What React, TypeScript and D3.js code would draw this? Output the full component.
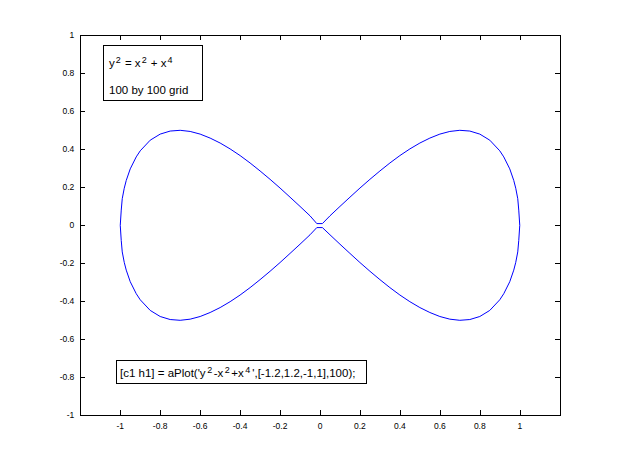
import React from "react";
import * as d3 from "d3";

const xTicks = [-1, -0.8, -0.6, -0.4, -0.2, 0, 0.2, 0.4, 0.6, 0.8, 1];
const xTickLabels = ["-1", "-0.8", "-0.6", "-0.4", "-0.2", "0", "0.2", "0.4", "0.6", "0.8", "1"];
const yTicks = [-1, -0.8, -0.6, -0.4, -0.2, 0, 0.2, 0.4, 0.6, 0.8, 1];
const yTickLabels = ["-1", "-0.8", "-0.6", "-0.4", "-0.2", "0", "0.2", "0.4", "0.6", "0.8", "1"];

// contour: x positions along the curve
const curveX = [
  -1.0, -0.995, -0.99, -0.98, -0.97, -0.95, -0.92, -0.9, -0.85, -0.8, -0.75, -0.7, -0.65, -0.6,
  -0.55, -0.5, -0.45, -0.4, -0.35, -0.3, -0.25, -0.2, -0.15, -0.1, -0.05, -0.016,
  0.012, 0.05, 0.1, 0.15, 0.2, 0.25, 0.3, 0.35, 0.4, 0.45, 0.5, 0.55, 0.6, 0.65, 0.7, 0.75,
  0.8, 0.85, 0.9, 0.92, 0.95, 0.97, 0.98, 0.99, 0.995, 1.0,
];
// upper branch y values
const upperY = [
  0.0, 0.08, 0.14, 0.195, 0.236, 0.297, 0.36, 0.392, 0.448, 0.48, 0.496, 0.5, 0.494, 0.48,
  0.459, 0.433, 0.402, 0.367, 0.328, 0.286, 0.242, 0.196, 0.148, 0.0995, 0.05, 0.009,
  0.009, 0.05, 0.0995, 0.148, 0.196, 0.242, 0.286, 0.328, 0.367, 0.402, 0.433, 0.459, 0.48, 0.494, 0.5, 0.496,
  0.48, 0.448, 0.392, 0.36, 0.297, 0.236, 0.195, 0.14, 0.08, 0.0,
];
// lower branch y values
const lowerY = [
  0.0, -0.08, -0.14, -0.195, -0.236, -0.297, -0.36, -0.392, -0.448, -0.48, -0.496, -0.5, -0.494, -0.48,
  -0.459, -0.433, -0.402, -0.367, -0.328, -0.286, -0.242, -0.196, -0.148, -0.0995, -0.05, -0.012,
  -0.012, -0.05, -0.0995, -0.148, -0.196, -0.242, -0.286, -0.328, -0.367, -0.402, -0.433, -0.459, -0.48, -0.494, -0.5, -0.496,
  -0.48, -0.448, -0.392, -0.36, -0.297, -0.236, -0.195, -0.14, -0.08, 0.0,
];

const W = 618;
const H = 467;
const L = 80.3;
const R = 559.7;
const T = 35.3;
const B = 415.3;
const FONT = "'Liberation Sans', Arial, Helvetica, sans-serif";
const SUP = 4.5;

export default function App() {
  const x = d3.scaleLinear().domain([-1.2, 1.2]).range([L, R]);
  const y = d3.scaleLinear().domain([-1, 1]).range([B, T]);

  const pts: [number, number][] = [];
  curveX.forEach((cx, i) => pts.push([cx, upperY[i]]));
  for (let i = curveX.length - 1; i >= 0; i--) pts.push([curveX[i], lowerY[i]]);
  const line = d3
    .line<[number, number]>()
    .x((d) => x(d[0]))
    .y((d) => y(d[1]))
    .curve(d3.curveLinearClosed);

  const tl = 5;
  return (
    <svg
      width={W}
      height={H}
      style={{ position: "absolute", left: 0, top: 0, display: "block", background: "#fff" }}
      fontFamily={FONT}
    >
      <rect x={0} y={0} width={W} height={H} fill="#fff" />
      <g shapeRendering="crispEdges" stroke="#000" strokeWidth={1}>
        <rect x={Math.round(L) + 0.5} y={Math.round(T) + 0.5} width={Math.round(R) - Math.round(L)} height={Math.round(B) - Math.round(T)} fill="none" />
        {xTicks.map((t, i) => {
          const px = Math.round(x(t)) + 0.5;
          return (
            <g key={"xt" + i}>
              <line x1={px} x2={px} y1={B} y2={B - tl} />
              <line x1={px} x2={px} y1={T} y2={T + tl} />
            </g>
          );
        })}
        {yTicks.map((t, i) => {
          const py = Math.round(y(t)) + 0.5;
          return (
            <g key={"yt" + i}>
              <line x1={L} x2={L + tl} y1={py} y2={py} />
              <line x1={R} x2={R - tl} y1={py} y2={py} />
            </g>
          );
        })}
      </g>
      <g fontSize={8.5} fill="#000">
        {xTicks.map((t, i) => (
          <text key={"xl" + i} x={x(t)} y={B + 14} textAnchor="middle">
            {xTickLabels[i]}
          </text>
        ))}
        {yTicks.map((t, i) => (
          <text key={"yl" + i} x={L - 6} y={y(t) + 3} textAnchor="end">
            {yTickLabels[i]}
          </text>
        ))}
      </g>
      <path d={line(pts) || ""} fill="none" stroke="#0000ff" strokeWidth={1} />

      <g shapeRendering="crispEdges">
        <rect x={103.5} y={45.5} width={99} height={55} fill="#fff" stroke="#000" />
        <rect x={116.5} y={360.5} width={250} height={23} fill="#fff" stroke="#000" />
      </g>
      <g fontSize={11.5} fill="#000">
        <text x={109} y={67}>
          <tspan>y</tspan>
          <tspan dx={1} dy={-SUP} fontSize={9}>2</tspan>
          <tspan dx={1} dy={SUP}>{" = x"}</tspan>
          <tspan dx={1} dy={-SUP} fontSize={9}>2</tspan>
          <tspan dx={1} dy={SUP}>{" + x"}</tspan>
          <tspan dx={1} dy={-SUP} fontSize={9}>4</tspan>
        </text>
        <text x={109} y={94}>100 by 100 grid</text>
        <text x={120} y={377}>
          <tspan>[c1 h1] = aPlot('y</tspan>
          <tspan dx={1.5} dy={-SUP} fontSize={9}>2</tspan>
          <tspan dx={1.5} dy={SUP}>-x</tspan>
          <tspan dx={1.5} dy={-SUP} fontSize={9}>2</tspan>
          <tspan dx={1.5} dy={SUP}>+x</tspan>
          <tspan dx={1.5} dy={-SUP} fontSize={9}>4</tspan>
          <tspan dx={2} dy={SUP}>',[-1.2,1.2,-1,1],100);</tspan>
        </text>
      </g>
    </svg>
  );
}
